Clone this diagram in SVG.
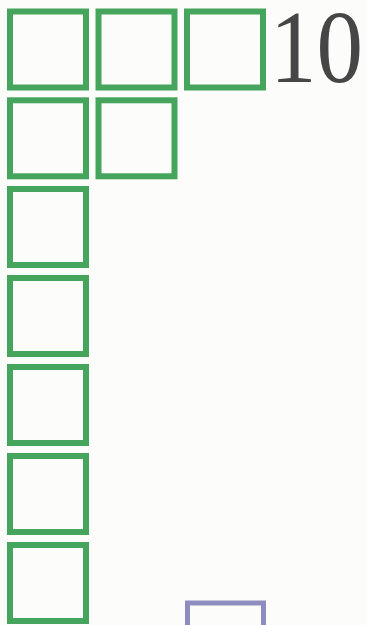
<svg xmlns="http://www.w3.org/2000/svg" width="367" height="625" viewBox="0 0 367 625">
<style>
.sq{fill:none;stroke:#45a55c;stroke-width:6}
.pq{fill:none;stroke:#8f8dbf;stroke-width:5}
.num{font-family:"Liberation Serif",serif;font-size:104px;fill:#464646}
</style>
<rect width="367" height="625" fill="#fcfcfb"/>
<g id="row1">
<rect class="sq" x="10" y="11.5" width="76" height="76"/>
<rect class="sq" x="98.5" y="11.5" width="76" height="76"/>
<rect class="sq" x="187" y="11.5" width="76" height="76"/>
</g>
<g id="row2">
<rect class="sq" x="10" y="100.3" width="76" height="76"/>
<rect class="sq" x="98.5" y="100.3" width="76" height="76"/>
</g>
<g id="row3"><rect class="sq" x="10" y="189" width="76" height="76"/></g>
<g id="row4"><rect class="sq" x="10" y="278" width="76" height="76"/></g>
<g id="row5"><rect class="sq" x="10" y="367" width="76" height="76"/></g>
<g id="row6"><rect class="sq" x="10" y="456" width="76" height="76"/></g>
<g id="row7"><rect class="sq" x="10" y="545" width="76" height="76"/></g>
<g id="purple"><rect class="pq" x="187.5" y="603" width="76" height="76"/></g>
<g id="label"><text class="num" x="270" y="82" textLength="93" lengthAdjust="spacingAndGlyphs">10</text></g>
<g id="connectors"/>
</svg>
